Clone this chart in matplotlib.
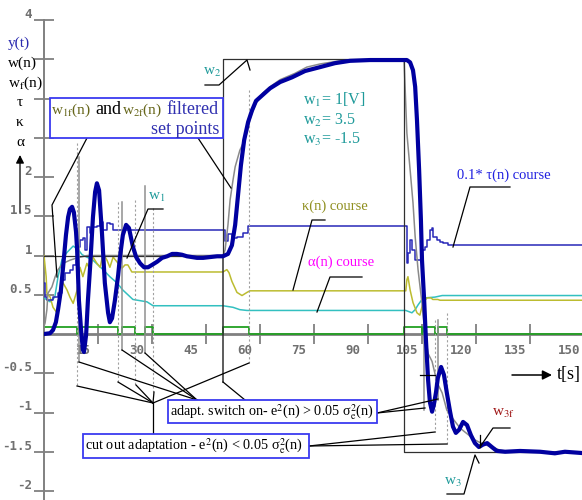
import matplotlib.pyplot as plt
import matplotlib.transforms as mtransforms
from matplotlib.lines import Line2D
from matplotlib.patches import Rectangle

plt.rcParams['font.family'] = ['Liberation Serif', 'DejaVu Serif']
plt.rcParams['mathtext.fontset'] = 'stix'

# ---- data ----
# y(t) plant output
t_y = [0, 1.7, 2.5, 3.3, 3.9, 4.7, 5.3, 6.1, 6.7, 7.2, 7.8, 8.3, 8.9, 9.2, 9.7, 10.3, 10.8, 11.1,
       11.7, 12.2, 12.8, 13.6, 14.2, 14.7, 15.3, 16.1, 16.9, 17.8, 18.3, 18.9, 19.7, 20.6, 21.1,
       21.9, 22.8, 23.6, 24.7, 25.6, 26.7, 27.8, 28.9, 30.0, 31.4, 32.8, 34.2, 35.6, 36.9, 38.3,
       39.7, 41.1, 42.5, 44.2, 46.1, 48.1, 49.7, 51.1, 52.2, 53.1, 53.9, 54.7, 55.6, 56.7, 57.8,
       58.9, 60.6, 62.8, 65.6, 68.9, 72.5, 76.7, 80.8, 85.0, 90.6, 96.1, 100.8, 101.7, 102.5,
       103.1, 103.6, 104.2, 104.7, 105.0, 105.6, 106.1, 106.7, 107.2, 107.8, 108.3, 108.9, 109.4,
       110.3, 111.1, 111.9, 112.8, 113.6, 114.4, 115.3, 116.4, 117.5, 118.6, 119.7, 120.8, 121.9,
       123.1, 124.4, 125.8, 128.1, 132.2, 137.8, 141.9, 144.7, 150.5]
y_out = [0, 0.01, 0.05, 0.15, 0.31, 0.56, 0.85, 1.26, 1.49, 1.59, 1.62, 1.55, 1.30, 1.07, 0.43,
         0.05, -0.20, -0.23, -0.01, 0.43, 0.85, 1.49, 1.81, 1.92, 1.83, 1.29, 0.65, 0.27, 0.15,
         0.20, 0.43, 0.75, 0.98, 1.26, 1.39, 1.35, 1.11, 0.98, 0.90, 0.85, 0.85, 0.88, 0.92, 0.97,
         0.99, 1.02, 1.02, 1.01, 0.99, 0.98, 0.97, 0.97, 0.98, 0.99, 0.99, 1.02, 1.13, 1.39, 1.77,
         2.15, 2.47, 2.70, 2.85, 2.97, 3.04, 3.13, 3.21, 3.27, 3.35, 3.40, 3.45, 3.48, 3.49, 3.49,
         3.49, 3.46, 3.36, 3.15, 2.73, 2.09, 1.45, 0.94, 0.43, -0.08, -0.59, -0.87, -0.99, -0.90,
         -0.74, -0.56, -0.42, -0.52, -0.75, -0.99, -1.18, -1.26, -1.22, -1.12, -1.16, -1.29,
         -1.39, -1.44, -1.41, -1.39, -1.44, -1.49, -1.50, -1.49, -1.50, -1.52, -1.50, -1.52]

# w(n) set point
t_w = [0, 49.7, 49.7, 100, 100, 150.5]
w_set = [1, 1, 3.5, 3.5, -1.5, -1.5]

# wf(n) filtered set point
t_wf = [0, 0, 0.3, 0.8, 1.1, 2.2, 3.1, 3.9, 5.3, 7.2, 9.2, 12, 49.7, 50.3, 51.1, 51.7, 52.5,
        53.1, 54.4, 55.3, 56.4, 57.2, 57.8, 58.9, 60.8, 62.8, 65.6, 69.7, 73, 76.7, 79.4, 83.6,
        100, 100.3, 100.8, 101.7, 102.5, 103.1, 103.9, 105, 105.8, 106.7, 107.8, 109.2, 110.6,
        111.9, 113.6, 115.6, 117.5, 119.7, 121.9, 124.4, 126.7, 129.4, 150.5]
wf = [0, 0.1, 0.14, 0.31, 0.52, 0.6, 0.73, 0.82, 0.9, 0.94, 0.97, 1.0, 1.0, 1.07, 1.39, 1.71,
      1.96, 2.13, 2.34, 2.43, 2.56, 2.73, 2.82, 2.94, 3.07, 3.15, 3.24, 3.32, 3.40, 3.44, 3.46,
      3.49, 3.5, 3.15, 2.56, 2.09, 1.67, 1.24, 0.82, 0.39, 0.01, -0.25, -0.35, -0.62, -0.75,
      -0.97, -1.08, -1.2, -1.27, -1.35, -1.4, -1.44, -1.48, -1.5, -1.5]

# 0.1*tau(n)
t_tau = [0, 0.3, 0.8, 2.5, 3.9, 5.0, 5.8, 7.2, 8.1, 8.9, 9.4, 10.0, 10.8, 11.4, 11.9, 12.8,
         13.6, 14.7, 15.6, 16.4, 17.5, 18.3, 19.2, 21.1, 49.7, 50.3, 51.1, 52.2, 53.6, 55.2,
         56.7, 100.5, 100.8, 101.1, 101.7, 102.2, 103.1, 103.9, 105.0, 105.8, 106.4, 107.2,
         107.8, 108.0, 109.2, 110.0, 110.8, 112.2, 150.5]
tau01 = [0.65, 0.47, 0.43, 0.47, 0.52, 0.69, 0.78, 0.82, 0.88, 0.94, 1.11, 1.20, 1.22, 1.07,
         1.36, 1.29, 1.36, 1.38, 1.43, 1.32, 1.41, 1.40, 1.32, 1.32, 1.32, 1.18, 1.27, 1.22,
         1.24, 1.29, 1.37, 1.37, 0.90, 1.03, 1.20, 1.07, 0.94, 0.94, 1.07, 1.11, 1.20, 1.32,
         1.35, 1.24, 1.20, 1.17, 1.16, 1.13, 1.13]

# kappa(n)
t_kap = [0, 0.6, 0.8, 1.7, 2.5, 3.6, 4.4, 5.3, 6.4, 7.2, 8.1, 9.2, 10.0, 10.8, 11.9, 12.8,
         13.6, 14.7, 15.6, 16.4, 17.5, 18.3, 19.2, 20.6, 21.7, 22.5, 23.3, 24.4, 49.7, 50.8,
         51.4, 52.2, 53.6, 55.0, 56.4, 57.2, 100.5, 100.8, 101.1, 101.7, 102.5, 103.6, 104.4,
         105.3, 106.4, 107.5, 108.0, 109.4, 110.0, 150.5]
kappa = [1.0, 0.73, 0.52, 0.47, 0.34, 0.27, 0.56, 0.65, 0.56, 0.47, 0.39, 0.56, 0.85, 0.73,
         0.90, 0.82, 0.98, 0.90, 0.85, 1.03, 0.94, 0.85, 0.98, 0.90, 0.84, 0.88, 0.88, 0.79,
         0.79, 0.82, 0.78, 0.67, 0.53, 0.49, 0.53, 0.55, 0.55, 0.69, 0.73, 0.56, 0.40, 0.27,
         0.24, 0.40, 0.46, 0.46, 0.44, 0.44, 0.43, 0.43]

# alpha(n)
t_alp = [0, 1.7, 3.0, 3.9, 5.0, 6.4, 8.1, 9.4, 10.6, 11.9, 13.6, 15.0, 16.4, 18.3, 20.3,
         21.9, 23.3, 24.7, 28.6, 30.3, 49.7, 52.5, 54.4, 56.4, 100.5, 102.2, 103.1, 103.9,
         105.0, 105.8, 108.6, 110.6, 150.5]
alpha = [0.46, 0.41, 0.47, 0.73, 0.95, 1.04, 1.12, 1.08, 1.01, 0.98, 0.94, 0.88, 0.82, 0.73,
         0.65, 0.56, 0.50, 0.44, 0.41, 0.36, 0.36, 0.34, 0.31, 0.30, 0.30, 0.27, 0.31, 0.37,
         0.44, 0.46, 0.47, 0.49, 0.49]

# adaptation switch: on / cut-out moments [s]
on_times = [0, 9.7, 21.7, 28.1, 49.7, 100, 105.6, 109.5]
off_times = [9.2, 20.6, 25.3, 30.3, 57.0, 105.0, 108.6, 112.0]
sw_level = 0.085

x_ticks = [15, 30, 45, 60, 75, 90, 105, 120, 135, 150]
y_ticks = [-2, -1.5, -1, -0.5, 0.5, 1, 1.5, 2, 2.5, 3, 3.5, 4]
y_ticklabels = ['-2', '-1.5', '-1', '-0.5', '0.5', '1', '1.5', '2', '', '', '', '4']

# ---- figure ----
W, H = 582, 500
fig = plt.figure(figsize=(W / 100, H / 100), dpi=100)
# pixel transform (origin top-left) for annotations
P = mtransforms.Affine2D().scale(1 / W, -1 / H).translate(0, 1) + fig.transFigure

ax = fig.add_axes([44 / W, 0, 150.5 * 3.6 / W, 480 / H])
ax.set_xlim(0, 150.5)
ax.set_ylim(-166 / 78.5, 4)
ax.patch.set_visible(False)
for s in ['top', 'right']:
    ax.spines[s].set_visible(False)
ax.spines['left'].set_color('#808080')
ax.spines['left'].set_linewidth(1.4)
ax.spines['bottom'].set_position(('data', 0))
ax.spines['bottom'].set_color('#808080')
ax.spines['bottom'].set_linewidth(2)

tick_font = dict(family='DejaVu Sans Mono', weight='bold', size=9)
ax.tick_params(axis='x', direction='inout', length=14, width=1.3, color='#808080',
               labelcolor='#707070', pad=0.5)
ax.tick_params(axis='y', direction='inout', length=14, width=1.3, color='#808080',
               labelcolor='#707070', pad=1.5)
ax.set_xticks(x_ticks)
ax.set_xticklabels([str(v) for v in x_ticks], fontdict=tick_font)
ax.set_yticks(y_ticks)
ax.set_yticklabels(y_ticklabels, fontdict=tick_font)
for lab in ax.get_xticklabels():
    lab.set_transform(lab.get_transform() + mtransforms.ScaledTranslation(-0.15, 0, fig.dpi_scale_trans))
for lab in ax.get_yticklabels():
    lab.set_transform(lab.get_transform() + mtransforms.ScaledTranslation(0, 0.07, fig.dpi_scale_trans))

# switch signal
t_sw, sw = [], []
for a, b in zip(on_times, off_times):
    t_sw += [a, b]
    sw += [sw_level, 0]
t_sw.append(150.5)
sw.append(0)
ax.plot(t_sw, sw, drawstyle='steps-post', color='#22a022', lw=1.3, zorder=3)

ax.plot(t_alp, alpha, color='#33c0c0', lw=1.1, zorder=3)
ax.plot(t_kap, kappa, color='#bcbc30', lw=1.1, zorder=3)
ax.plot(t_tau, tau01, drawstyle='steps-post', color='#2828b8', lw=1.1, zorder=4)
ax.plot(t_wf, wf, color='#8a8a8a', lw=1.1, zorder=4)
ax.plot(t_w, w_set, color='#303030', lw=0.9, zorder=4)
ax.plot(t_y, y_out, color='#0000a0', lw=3, zorder=6, solid_joinstyle='round')

# event marker lines (switch on = solid, cut out = dotted)
on_marks = [(9.7, 2.25, -0.36), (21.7, 1.68, -0.2), (28.1, 1.89, -0.24), (49.7, 1.0, -0.61),
            (105.6, 0.01, -0.97), (109.5, 0.18, -0.84)]
off_marks = [(9.2, 2.43, -0.66), (20.6, 1.68, -0.61), (25.3, 1.71, -0.65), (30.3, 1.6, -0.74),
             (57.0, 3.11, -0.37), (108.6, 0.18, -1.25), (112.0, 0.27, -1.4)]
for t, a, b in on_marks:
    c = '#303030' if t == 49.7 else '#909090'
    ax.plot([t, t], [a, b], color=c, lw=1.1, zorder=5)
for t, a, b in off_marks:
    ax.plot([t, t], [a, b], color='#a0a0a0', lw=0.8, ls=(0, (2, 2)), zorder=5)


def seg(pts, color='black', lw=0.9):
    xs = [p[0] for p in pts]
    ys = [p[1] for p in pts]
    fig.add_artist(Line2D(xs, ys, transform=P, color=color, lw=lw, zorder=8))


def txt(x, y, s, color='black', size=11, ha='left', **kw):
    fig.text(x, y, s, transform=P, color=color, fontsize=size, ha=ha, va='center', zorder=10, **kw)


def box(x0, y0, x1, y1):
    fig.add_artist(Rectangle((x0, y0), x1 - x0, y1 - y0, transform=P, facecolor='white',
                             edgecolor='#3a3af0', lw=1.3, zorder=9))


# leader lines
seg([(87, 138), (52, 205), (57, 277)])
seg([(198, 138), (231, 188)])
seg([(205, 85), (219, 85), (247, 60), (250, 70)])
seg([(163, 209), (148, 209), (127, 258)])
seg([(510, 187), (470, 187), (453, 247)])
seg([(325, 220), (312, 220), (293, 290)])
seg([(362, 277), (330, 277), (317, 312)])
seg([(510, 428), (493, 428), (480, 447)])
seg([(480, 435), (480, 447)])
seg([(447, 494), (464, 494), (475, 455), (479, 463)])
seg([(420, 375), (435, 375)])
for p in [(79, 362), (122, 350), (145, 353)]:
    seg([(197, 400), p])
seg([(245, 400), (223, 382)])
seg([(377, 413), (425, 408)])
seg([(377, 413), (438, 399)])
for p in [(77, 386), (118, 382), (136, 385), (154, 392), (249, 363)]:
    seg([(153, 403), p])
seg([(153, 403), (153, 434)])
seg([(309, 446), (435, 432)])
seg([(309, 446), (447, 444)])

# arrows
fig.add_artist(plt.Annotation('', xy=(20, 155), xytext=(20, 212), xycoords=P, textcoords=P,
                              arrowprops=dict(arrowstyle='-|>', color='black', lw=0.9,
                                              mutation_scale=12, shrinkA=0, shrinkB=0)))
fig.add_artist(plt.Annotation('', xy=(552, 375), xytext=(512, 375), xycoords=P, textcoords=P,
                              arrowprops=dict(arrowstyle='-|>', color='black', lw=1.1,
                                              mutation_scale=14, shrinkA=0, shrinkB=0)))

# boxes
box(50, 98, 223, 138)
box(168, 400, 377, 423)
box(83, 434, 309, 458)

# texts
txt(8, 43, 'y(t)', color='#2a2ab0', size=11)
txt(8, 63, 'w(n)', size=11)
txt(8, 83, 'w$_{\\mathrm{f}}$(n)', size=11)
txt(20, 102, 'τ', size=11, ha='center')
txt(20, 122, 'κ', size=11, ha='center')
txt(20, 142, 'α', size=11, ha='center')

txt(51, 110, 'w$_{\\mathrm{1f}}$(n)', color='#66661a', size=11)
txt(95, 110, 'and', size=13)
txt(122, 110, 'w$_{\\mathrm{2f}}$(n)', color='#66661a', size=11)
txt(219, 110, 'filtered', color='#3030b0', size=13, ha='right')
txt(219, 129, 'set points', color='#3030b0', size=13, ha='right')

txt(203, 72, 'w$_{\\mathrm{2}}$', color='#1f9a9a', size=11)
txt(303, 100, 'w$_{\\mathrm{1}}$= 1[V]', color='#1f9a9a', size=11.5)
txt(303, 120, 'w$_{\\mathrm{2}}$= 3.5', color='#1f9a9a', size=11.5)
txt(303, 139, 'w$_{\\mathrm{3}}$= -1.5', color='#1f9a9a', size=11.5)
txt(148, 197, 'w$_{\\mathrm{1}}$', color='#1f9a9a', size=11)
txt(457, 175, '0.1* τ(n) course', color='#2020e0', size=10.5)
txt(302, 206, 'κ(n) course', color='#8f8f1f', size=10.5)
txt(308, 262, 'α(n) course', color='#ff00ff', size=10.5)
txt(557, 375, 't[s]', size=13)
txt(492, 413, 'w$_{\\mathrm{3f}}$', color='#a01818', size=11)
txt(444, 482, 'w$_{\\mathrm{3}}$', color='#1f9a9a', size=11)
txt(170, 412, 'adapt. switch on- e$^2$(n) > 0.05 σ$_\\mathrm{e}^2$(n)', size=10.2)
txt(85, 446, 'cut out adaptation - e$^2$(n) < 0.05 σ$_\\mathrm{e}^2$(n)', size=10.3)

fig.savefig('out.png', dpi=100)
